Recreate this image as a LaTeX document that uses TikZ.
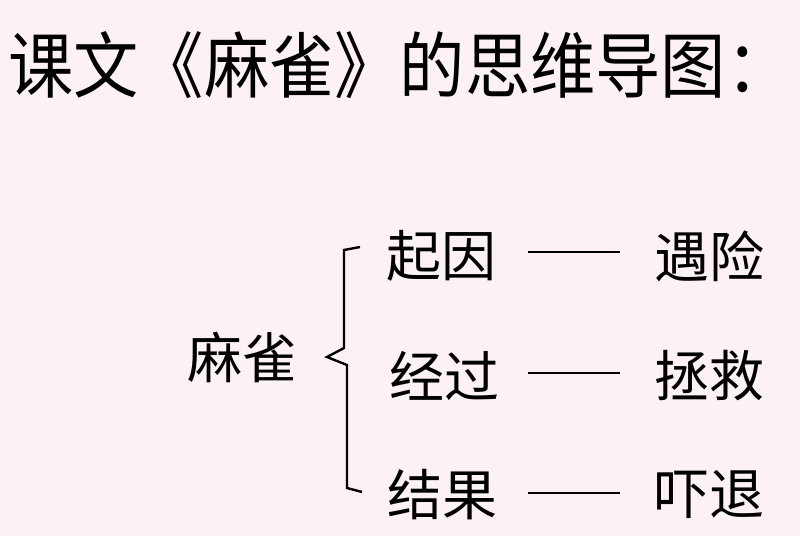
\documentclass[tikz,border=0pt]{standalone}
\usepackage{fontspec}
\newfontfamily\cjk{Noto Sans CJK SC}
\definecolor{bgpink}{HTML}{FCF2F5}
\tikzset{
  title/.style={inner sep=0pt, font=\cjk\fontsize{61}{61}\selectfont},
  word/.style={inner sep=0pt, font=\cjk\fontsize{55}{55}\selectfont},
  link/.style={line width=2.6pt, black},
  brace/.style={line width=2.4pt, black, line join=miter}
}
\begin{document}
\begin{tikzpicture}[x=1pt,y=-1pt]
\fill[bgpink] (0,0) rectangle (800,536);
\useasboundingbox (0,0) rectangle (800,536);
\node[title, anchor=west] (t) at (8,65) {\scalebox{1.07}[1.18]{课文《麻雀》的思维导图：}};
\node[word] (root) at (242,357) {麻雀};
\node[word] (a1) at (441,256) {起因};
\node[word] (a2) at (444,376) {经过};
\node[word] (a3) at (442,495) {结果};
\node[word] (b1) at (709,256) {遇险};
\node[word] (b2) at (709,376) {拯救};
\node[word] (b3) at (709,495) {吓退};
\coordinate (l1s) at (528,252); \coordinate (l1e) at (620,252);
\coordinate (l2s) at (528,373); \coordinate (l2e) at (620,373);
\coordinate (l3s) at (528,493); \coordinate (l3e) at (620,493);
\draw[link] (l1s) -- (l1e);
\draw[link] (l2s) -- (l2e);
\draw[link] (l3s) -- (l3e);
\coordinate (bt) at (360,247);
\coordinate (bb) at (362,492);
\coordinate (tip) at (327,357);
\draw[brace] (bt) -- (344,250) -- (344,348) -- (tip) -- (347,365) -- (347,488) -- (bb);
\end{tikzpicture}
\end{document}
